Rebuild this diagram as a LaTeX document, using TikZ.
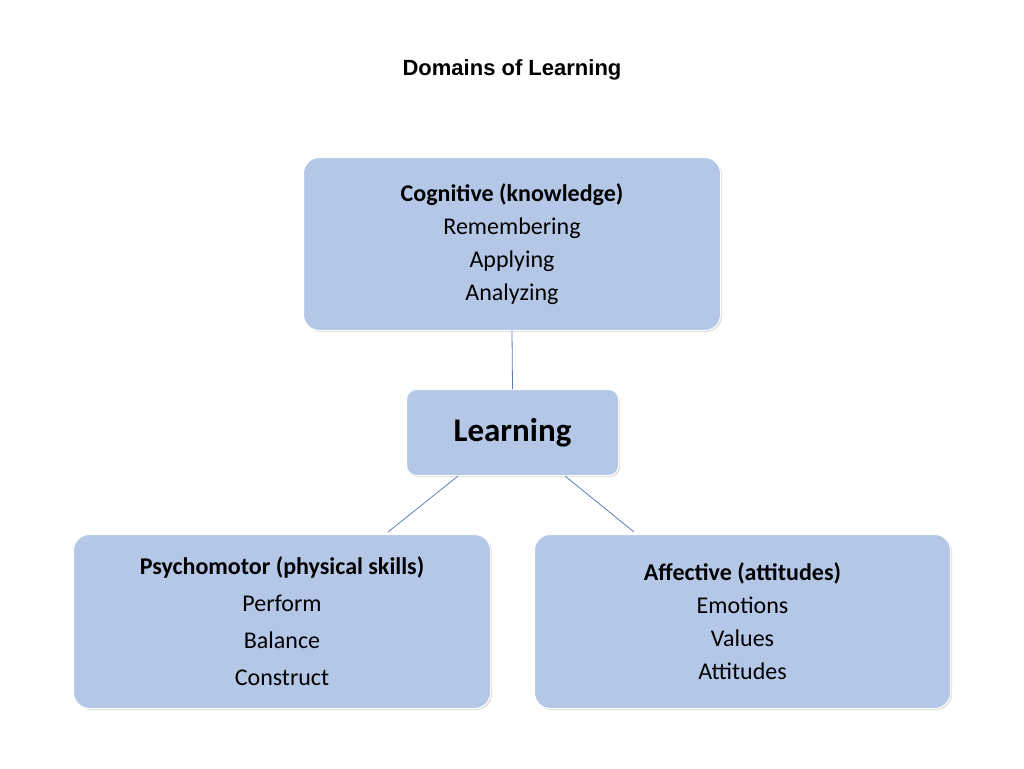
\documentclass[tikz,border=0pt]{standalone}
\usepackage{fontspec}
\setmainfont{Carlito}
\newfontfamily\titlefont{Liberation Sans}
\usetikzlibrary{shadows}
\definecolor{boxfill}{HTML}{B4C7E7}
\definecolor{linec}{HTML}{5B7DB8}
\begin{document}
\begin{tikzpicture}[x=1pt,y=-1pt,
  box/.style={draw=white,line width=1pt,fill=boxfill,rounded corners=16pt,anchor=north west,inner sep=0pt,align=center,
    drop shadow={shadow xshift=1.5pt,shadow yshift=-1.5pt,opacity=0.25}},
  conn/.style={draw=linec,line width=0.8pt}]
\useasboundingbox (0,0) rectangle (1024,768);
\node[font=\titlefont\bfseries\fontsize{22}{26}\selectfont] (title) at (512,70) {Domains of Learning};
\node[box,minimum width=417pt,minimum height=173pt,font=\fontsize{24}{33}\selectfont] (cog) at (303,157) {\textbf{Cognitive (knowledge)}\\Remembering\\Applying\\Analyzing};
\node[box,minimum width=212pt,minimum height=86pt,font=\bfseries\fontsize{33}{36}\selectfont,rounded corners=10pt] (learn) at (406,389) {Learning};
\node[box,minimum width=417pt,minimum height=174pt,font=\fontsize{24}{37}\selectfont] (psy) at (73,534) {\textbf{Psychomotor (physical skills)}\\Perform\\Balance\\Construct};
\node[box,minimum width=416pt,minimum height=174pt,font=\fontsize{24}{33}\selectfont] (aff) at (534,534) {\textbf{Affective (attitudes)}\\Emotions\\Values\\Attitudes};
\coordinate (l1) at (458,476); \coordinate (l2) at (565,476);
\coordinate (p1) at (388,532); \coordinate (a1) at (634,532);
\draw[conn] (cog.south) -- (learn.north);
\draw[conn] (l1) -- (p1);
\draw[conn] (l2) -- (a1);
\end{tikzpicture}
\end{document}
